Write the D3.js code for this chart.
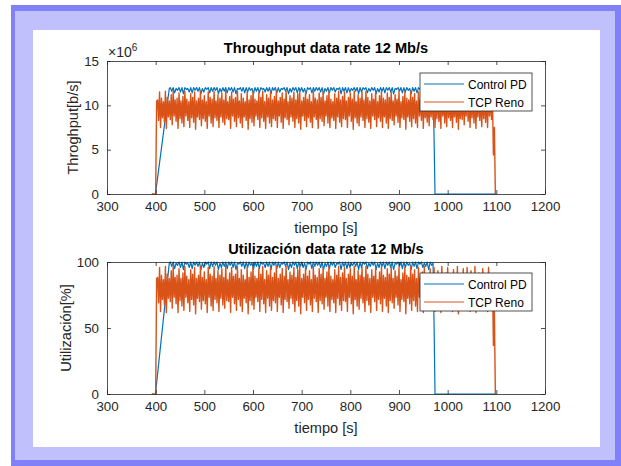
<!DOCTYPE html>
<html>
<head>
<meta charset="utf-8">
<script src="https://cdn.jsdelivr.net/npm/d3@7"></script>
<style>
  body { margin: 0; background: #fff; }
  svg { display: block; font-family: "Liberation Sans", Arial, sans-serif; }
</style>
</head>
<body>
<div id="chart"></div>
<script>
const linkRate = 12; // Mb/s, used for utilizacion [%]
const xTicks = [300, 400, 500, 600, 700, 800, 900, 1000, 1100, 1200];
const thrTicks = [0, 5, 10, 15];
const utilTicks = [0, 50, 100];
const seriesNames = ["Control PD", "TCP Reno"];
const seriesColors = ["#0072BD", "#D95319"];
const seriesWidths = [1.2, 1.4];

// Control PD throughput (Mb/s)
const ctrlHeadT = [400, 401, 428];
const ctrlHeadV = [0, 0.6, 11.9];
const ctrlBodyStart = 430, ctrlBodyStep = 6;
const ctrlHigh = [
  12.0, 12.0, 11.9, 12.0, 12.0, 12.0, 11.9, 12.0, 12.0, 12.0,
  12.0, 11.9, 12.0, 12.0, 12.0, 12.0, 12.0, 11.9, 12.0, 12.0,
  12.0, 12.0, 12.0, 11.9, 12.0, 12.0, 12.0, 12.0, 11.9, 12.0,
  12.0, 12.0, 11.9, 12.0, 12.0, 12.0, 12.0, 12.0, 11.9, 12.0,
  12.0, 11.9, 12.0, 12.0, 12.0, 12.0, 11.9, 12.0, 12.0, 12.0,
  12.0, 12.0, 12.0, 11.9, 12.0, 12.0, 12.0, 11.9, 12.0, 12.0,
  12.0, 12.0, 11.9, 12.0, 12.0, 12.0, 12.0, 12.0, 11.9, 12.0,
  12.0, 11.9, 12.0, 12.0, 12.0, 12.0, 12.0, 11.9, 12.0, 12.0,
  12.0, 12.0, 11.9, 12.0, 12.0, 12.0, 12.0, 11.9, 12.0, 12.0
];
const ctrlLow = [
  11.6, 11.4, 11.7, 11.5, 11.3, 11.8, 11.5, 11.4, 11.7, 11.6,
  11.3, 11.5, 11.8, 11.4, 11.6, 11.7, 11.3, 11.5, 11.6, 11.4,
  11.7, 11.5, 11.3, 11.8, 11.6, 11.4, 11.5, 11.7, 11.3, 11.6,
  11.4, 11.8, 11.5, 11.6, 11.3, 11.7, 11.4, 11.5, 11.8, 11.6,
  11.3, 11.5, 11.7, 11.4, 11.6, 11.5, 11.3, 11.8, 11.4, 11.6,
  11.7, 11.5, 11.3, 11.6, 11.4, 11.7, 11.5, 11.8, 11.3, 11.6,
  11.4, 11.5, 11.7, 11.6, 11.3, 11.5, 11.8, 11.4, 11.6, 11.7,
  11.3, 11.5, 11.6, 11.4, 11.7, 11.5, 11.3, 11.8, 11.6, 11.4,
  11.5, 11.7, 11.3, 11.6, 11.4, 11.8, 11.5, 11.6, 11.3, 11.7
];
const ctrlTailT = [970, 972, 974, 1100];
const ctrlTailV = [11.9, 6.5, 0, 0];

// TCP Reno throughput (Mb/s)
const renoHeadT = [392, 400, 402];
const renoHeadV = [0, 0, 10.5];
const renoBodyStart = 404, renoBodyStep = 4;
const renoHigh = [
  10.6, 11.5, 10.8, 10.4, 11.6, 10.9, 10.5, 11.2, 11.7, 10.6, 10.8, 11.4, 10.5, 11.0, 11.6, 10.7, 10.4, 11.3, 10.9, 11.5,
  10.5, 10.8, 11.6, 10.6, 11.1, 10.4, 11.5, 10.9, 10.7, 11.6, 10.5, 11.2, 10.8, 11.4, 10.6, 11.7, 10.4, 11.0, 11.5, 10.7,
  10.9, 11.6, 10.5, 11.3, 10.8, 10.4, 11.5, 10.6, 11.1, 11.6, 10.7, 10.5, 11.4, 10.9, 11.6, 10.4, 11.2, 10.8, 11.5, 10.6,
  11.0, 11.6, 10.5, 10.9, 11.4, 10.7, 11.6, 10.4, 11.1, 10.8, 11.5, 10.6, 11.3, 11.6, 10.5, 10.9, 11.5, 10.7, 11.2, 10.4,
  11.6, 10.8, 10.6, 11.4, 10.9, 11.5, 10.5, 11.1, 11.6, 10.7, 10.4, 11.3, 10.8, 11.6, 10.6, 11.0, 11.5, 10.5, 10.9, 11.4,
  10.7, 11.6, 10.4, 11.2, 10.8, 11.5, 10.6, 11.6, 10.9, 10.5, 11.3, 10.7, 11.5, 10.4, 11.1, 11.6, 10.8, 10.6, 11.4, 10.9,
  11.5, 10.5, 11.2, 10.7, 11.6, 10.4, 11.0, 11.5, 10.8, 10.6, 11.6, 10.9, 11.3, 10.5, 11.5, 10.7, 11.1, 11.6, 10.4, 10.8,
  11.4, 10.6, 11.5, 10.9, 11.2, 10.5, 11.6, 10.7, 11.0, 11.5, 10.4, 10.8, 11.3, 10.6, 11.6, 10.9, 10.5, 11.4, 10.7, 11.5,
  10.6, 11.2, 10.9, 11.6, 10.5, 11.0, 10.8, 11.4, 10.6, 10.9, 11.5, 10.8
];
const renoLow = [
  8.3, 7.5, 8.6, 8.1, 7.4, 8.7, 8.4, 7.8, 8.8, 8.2, 7.4, 8.5, 8.0, 7.6, 8.8, 8.3, 7.5, 8.6, 8.1, 7.3,
  8.7, 8.4, 7.7, 8.5, 8.2, 7.4, 8.8, 8.0, 7.6, 8.6, 8.3, 7.5, 8.7, 8.1, 7.8, 8.5, 8.4, 7.4, 8.8, 8.2,
  7.6, 8.6, 8.0, 7.5, 8.7, 8.3, 7.3, 8.5, 8.1, 7.7, 8.8, 8.4, 7.5, 8.6, 8.2, 7.4, 8.7, 8.0, 7.6, 8.5,
  8.3, 7.5, 8.8, 8.1, 7.4, 8.6, 8.4, 7.8, 8.7, 8.2, 7.5, 8.5, 8.0, 7.3, 8.8, 8.3, 7.6, 8.6, 8.1, 7.5,
  8.7, 8.4, 7.4, 8.5, 8.2, 7.7, 8.8, 8.0, 7.5, 8.6, 8.3, 7.4, 8.7, 8.1, 7.6, 8.5, 8.4, 7.5, 8.8, 8.2,
  7.3, 8.6, 8.0, 7.7, 8.7, 8.3, 7.5, 8.5, 8.1, 7.4, 8.8, 8.4, 7.6, 8.6, 8.2, 7.5, 8.7, 8.0, 7.4, 8.5,
  8.3, 7.8, 8.8, 8.1, 7.5, 8.6, 8.4, 7.3, 8.7, 8.2, 7.6, 8.5, 8.0, 7.5, 8.8, 8.3, 7.4, 8.6, 8.1, 7.7,
  8.7, 8.4, 7.5, 8.5, 8.2, 7.4, 8.8, 8.0, 7.6, 8.6, 8.3, 7.5, 8.7, 8.1, 7.3, 8.5, 8.4, 7.8, 8.8, 8.2,
  7.5, 8.6, 8.0, 7.4, 8.7, 8.3, 7.6, 8.5, 8.1, 7.5, 8.8, 8.4
];
const renoTailT = [1092, 1094, 1096, 1098, 1100];
const renoTailV = [10.8, 4.4, 7.5, 0, 0];

// assemble the time/value pairs of one series
function buildSeries(headT, headV, start, step, high, low, tailT, tailV) {
  const pts = headT.map((t, i) => [t, headV[i]]);
  high.forEach((v, i) => {
    pts.push([start + i * step, v]);
    pts.push([start + i * step + step / 2, low[i]]);
  });
  tailT.forEach((t, i) => pts.push([t, tailV[i]]));
  return pts;
}

const ctrl = buildSeries(ctrlHeadT, ctrlHeadV, ctrlBodyStart, ctrlBodyStep, ctrlHigh, ctrlLow, ctrlTailT, ctrlTailV);
const reno = buildSeries(renoHeadT, renoHeadV, renoBodyStart, renoBodyStep, renoHigh, renoLow, renoTailT, renoTailV);

const W = 621, H = 466;
const axisColor = "#262626";

const svg = d3.select("#chart").append("svg")
  .attr("width", W)
  .attr("height", H);

// frame
svg.append("rect").attr("x", 11).attr("y", 5).attr("width", W - 11).attr("height", H - 5).attr("fill", "#8080f8");
svg.append("rect").attr("x", 15).attr("y", 11).attr("width", 600).attr("height", 449).attr("fill", "#c0c0fc");
svg.append("rect").attr("x", 33).attr("y", 30).attr("width", 567).attr("height", 417).attr("fill", "#ffffff");

const x = d3.scaleLinear().domain([300, 1200]).range([107, 545]);

function drawPanel(p) {
  const y = d3.scaleLinear().domain(p.domain).range([p.bottom, p.top]);
  const g = svg.append("g");

  const line = d3.line()
    .x(d => x(d[0]))
    .y(d => y(p.conv(d[1])));

  [ctrl, reno].forEach((s, i) => {
    g.append("path")
      .datum(s)
      .attr("fill", "none")
      .attr("stroke", seriesColors[i])
      .attr("stroke-width", seriesWidths[i])
      .attr("stroke-linejoin", "round")
      .attr("d", line);
  });

  // axes, MATLAB box with inward ticks
  const bottomAx = g.append("g")
    .attr("transform", `translate(0,${p.bottom})`)
    .call(d3.axisBottom(x).tickValues(xTicks).tickFormat(d3.format("d")).tickSize(-4).tickPadding(8).tickSizeOuter(0));
  g.append("g")
    .attr("transform", `translate(0,${p.top})`)
    .call(d3.axisTop(x).tickValues(xTicks).tickSize(-4).tickFormat("").tickSizeOuter(0));
  g.append("g")
    .attr("transform", `translate(${x.range()[0]},0)`)
    .call(d3.axisLeft(y).tickValues(p.ticks).tickFormat(d3.format("d")).tickSize(-4).tickPadding(8).tickSizeOuter(0));
  g.append("g")
    .attr("transform", `translate(${x.range()[1]},0)`)
    .call(d3.axisRight(y).tickValues(p.ticks).tickSize(-4).tickFormat("").tickSizeOuter(0));

  g.selectAll(".domain").attr("stroke", axisColor).attr("stroke-width", 0.8);
  g.selectAll(".tick line").attr("stroke", axisColor).attr("stroke-width", 0.8);
  g.selectAll(".tick text")
    .attr("fill", axisColor)
    .style("font-size", "13.3px")
    .style("font-family", '"Liberation Sans", Arial, sans-serif');
  bottomAx.selectAll(".tick text").attr("dy", "0.71em").attr("y", 8);

  // title
  g.append("text")
    .attr("x", (x.range()[0] + x.range()[1]) / 2)
    .attr("y", p.top - 8)
    .attr("text-anchor", "middle")
    .style("font-size", "14.6px")
    .style("font-weight", "bold")
    .attr("fill", "#000")
    .text(p.title);

  // x label
  g.append("text")
    .attr("x", (x.range()[0] + x.range()[1]) / 2)
    .attr("y", p.bottom + 39)
    .attr("text-anchor", "middle")
    .style("font-size", "14.6px")
    .attr("fill", axisColor)
    .text("tiempo [s]");

  // y label
  g.append("text")
    .attr("transform", `translate(${p.ylabelX},${(p.top + p.bottom) / 2}) rotate(-90)`)
    .attr("text-anchor", "middle")
    .style("font-size", "14.6px")
    .attr("fill", axisColor)
    .text(p.ylabel);

  if (p.exponent) {
    const ex = g.append("text")
      .attr("x", x.range()[0] + 1)
      .attr("y", p.top - 4)
      .style("font-size", "14px")
      .attr("fill", axisColor);
    ex.append("tspan").text("×10");
    ex.append("tspan").attr("dy", -6).style("font-size", "10px").text(p.exponent);
  }

  // legend
  const lg = g.append("g").attr("transform", `translate(420,${p.legendTop})`);
  lg.append("rect")
    .attr("width", 112)
    .attr("height", 38)
    .attr("fill", "#fff")
    .attr("stroke", axisColor)
    .attr("stroke-width", 0.8);
  seriesNames.forEach((name, i) => {
    const yy = 11 + i * 18;
    lg.append("line")
      .attr("x1", 4).attr("x2", 44)
      .attr("y1", yy).attr("y2", yy)
      .attr("stroke", seriesColors[i])
      .attr("stroke-width", 1);
    lg.append("text")
      .attr("x", 48)
      .attr("y", yy + 4.5)
      .style("font-size", "12px")
      .attr("fill", "#000")
      .text(name);
  });
}

drawPanel({
  top: 61, bottom: 194, domain: [0, 15], ticks: thrTicks,
  conv: v => v,
  title: "Throughput data rate 12 Mb/s",
  ylabel: "Throghput[b/s]", ylabelX: 78,
  exponent: "6",
  legendTop: 73
});

drawPanel({
  top: 262, bottom: 394, domain: [0, 100], ticks: utilTicks,
  conv: v => v / linkRate * 100,
  title: "Utilización data rate 12 Mb/s",
  ylabel: "Utilización[%]", ylabelX: 71,
  exponent: null,
  legendTop: 273
});
</script>
</body>
</html>
